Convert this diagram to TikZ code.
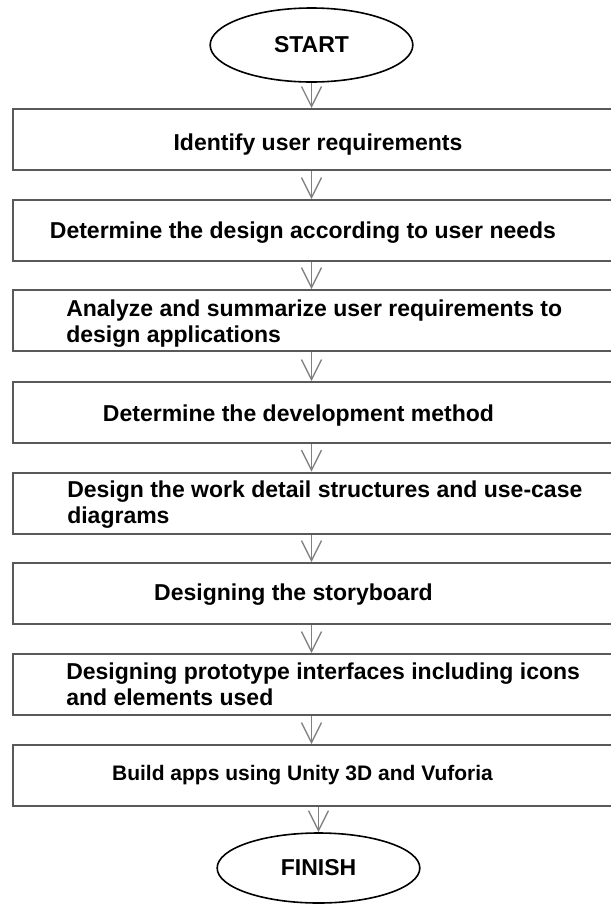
\documentclass[tikz,border=0pt]{standalone}
\usepackage{fontspec}
\setmainfont{Liberation Sans}
\usetikzlibrary{shapes,
	arrows.meta,
	positioning}
\tikzstyle{term}=[draw, ellipse, line width=1.2pt, minimum width=152pt, inner sep=0,
		font=\fontsize{17.25}{19.5}\selectfont\bfseries]
\tikzstyle{box}=[draw=black!65, line width=1.5pt, minimum width=459pt,
		minimum height=45.75pt, inner sep=0]
\tikzstyle{lbl}=[inner sep=0, align=left, font=\fontsize{17.25}{19.5}\selectfont\bfseries]
\tikzstyle{flow}=[draw=black!50, line width=1pt, -{Straight Barb[length=15pt,width=15pt]}]

\begin{document}
\begin{tikzpicture}[x=0.75pt, y=-0.75pt]
            \useasboundingbox (0,0) rectangle (611,904);
            \clip (0,0) rectangle (611,904);
            \node[term, minimum height=55.5pt] (start) at (311.5,45) {START};
            \foreach \i/\y in {1/139.5, 2/230.5, 3/320.5, 4/412.5, 5/503, 6/593.5, 7/684.5, 8/775.5}
                \node[box] (b\i) at (319,\y) {};
            \node[term, minimum height=52.5pt] (fin) at (318.5,868) {FINISH};
            % two-line labels are anchored on their last line
            \node[lbl, anchor=base] (t1) at (318,150.5) {Identify user requirements};
            \node[lbl, anchor=base] (t2) at (303,238.5) {Determine the design according to user needs};
            \node[lbl, anchor=base west] (t3) at (66,342.5) {Analyze and summarize user requirements to\\design applications};
            \node[lbl, anchor=base] (t4) at (298.5,421) {Determine the development method};
            \node[lbl, anchor=base west] (t5) at (67,523) {Design the work detail structures and use-case\\diagrams};
            \node[lbl, anchor=base] (t6) at (293.5,600.5) {Designing the storyboard};
            \node[lbl, anchor=base west] (t7) at (66,705) {Designing prototype interfaces including icons\\and elements used};
            \node[lbl, anchor=base, font=\fontsize{15.75}{18}\selectfont\bfseries] (t8) at (302.5,780.5) {Build apps using Unity 3D and Vuforia};
            \draw[flow] (start) -- (start |- b1.north);
            \foreach \a/\b in {1/2, 2/3, 3/4, 4/5, 5/6, 6/7, 7/8}
                \draw[flow] (b\a.south -| start) -- (b\b.north -| start);
            \draw[flow] (b8.south -| fin) -- (fin);
\end{tikzpicture}
\end{document}
